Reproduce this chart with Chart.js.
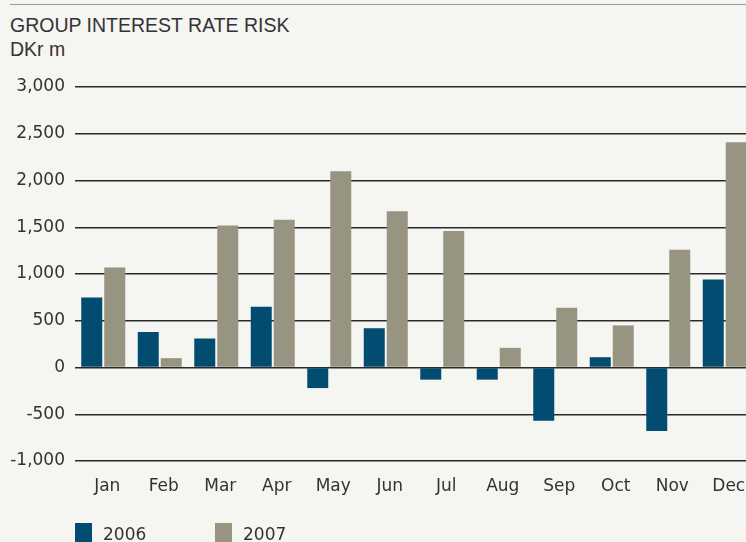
<!DOCTYPE html>
<html>
<head>
<meta charset="utf-8">
<script src="https://cdn.jsdelivr.net/npm/chart.js@4/dist/chart.umd.min.js"></script>
<style>
  html, body { margin: 0; padding: 0; background: #f5f5f1; overflow: hidden; }
  #wrap { position: relative; width: 746px; height: 542px; overflow: hidden; }
  #topline { position: absolute; left: 10px; top: 4px; width: 740px; height: 0; border-top: 1.5px solid #9a9a9a; }
  #title { position: absolute; left: 10px; top: 13px; font: 19.5px "Liberation Sans", sans-serif; color: #333; line-height: 24px; }
  #chartbox { position: absolute; left: 0; top: 0; width: 760px; height: 542px; }
</style>
</head>
<body>
<div id="wrap">
  <div id="topline"></div>
  <div id="title">GROUP INTEREST RATE RISK<br>DKr m</div>
  <div id="chartbox"><canvas id="risk"></canvas></div>
</div>
<script>
var months = ['Jan', 'Feb', 'Mar', 'Apr', 'May', 'Jun', 'Jul', 'Aug', 'Sep', 'Oct', 'Nov', 'Dec'];
var risk2006 = [750, 380, 310, 650, -220, 420, -130, -130, -570, 110, -680, 940];
var risk2007 = [1070, 100, 1520, 1580, 2100, 1670, 1460, 210, 640, 450, 1260, 2410];
var yTicks = [3000, 2500, 2000, 1500, 1000, 500, 0, -500, -1000];

// legend squares + labels drawn under the axis, left aligned with the plot
var legendPlugin = {
    id: 'boxLegend',
    afterDraw: function (chart) {
        var ctx = chart.ctx;
        var xs = [75, 215];
        ctx.save();
        ctx.font = '17px "DejaVu Sans", sans-serif';
        ctx.textBaseline = 'middle';
        chart.data.datasets.forEach(function (ds, i) {
            ctx.fillStyle = ds.backgroundColor;
            ctx.fillRect(xs[i], 523, 17, 22);
            ctx.fillStyle = '#333';
            ctx.fillText(ds.label, xs[i] + 28, 536);
        });
        ctx.restore();
    }
};

window.onload = function () {
    Chart.defaults.font.family = '"DejaVu Sans", sans-serif';
    Chart.defaults.color = '#333';
    var ctx = document.getElementById('risk').getContext('2d');
    new Chart(ctx, {
        type: 'bar',
        data: {
            labels: months,
            datasets: [{
                label: '2006',
                backgroundColor: '#024c72',
                data: risk2006
            }, {
                label: '2007',
                backgroundColor: '#979482',
                data: risk2007
            }]
        },
        options: {
            responsive: true,
            maintainAspectRatio: false,
            animation: false,
            categoryPercentage: 0.814,
            barPercentage: 0.913,
            layout: { padding: { top: 87, right: 7, bottom: 0, left: 0 } },
            plugins: {
                legend: { display: false },
                tooltip: { enabled: false }
            },
            scales: {
                x: {
                    grid: { display: false, drawTicks: false },
                    border: { display: false },
                    ticks: { font: { size: 17 }, padding: 15, labelOffset: 4, color: '#333' },
                    afterFit: function (s) { s.height = 81; }
                },
                y: {
                    min: -1000,
                    max: 3000,
                    afterBuildTicks: function (s) {
                        s.ticks = yTicks.map(function (v) { return { value: v }; });
                    },
                    grid: { color: '#2a2a2a', lineWidth: 1.5, drawTicks: false },
                    border: { display: false },
                    ticks: {
                        font: { size: 17 },
                        padding: 10,
                        color: '#333',
                        callback: function (v) { return v.toLocaleString('en-US'); }
                    },
                    afterFit: function (s) { s.width = 75; }
                }
            }
        },
        plugins: [legendPlugin]
    });
};
</script>
</body>
</html>
